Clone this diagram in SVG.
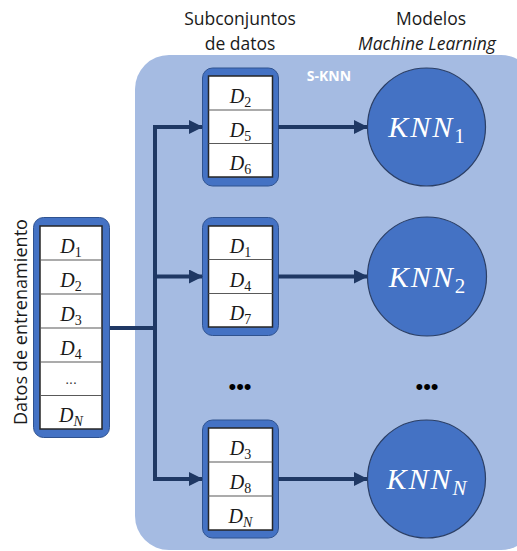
<svg xmlns="http://www.w3.org/2000/svg" width="517" height="551" viewBox="0 0 517 551">
  <defs>
    <style>
      .title { font-family: "Open Sans", "Liberation Sans", sans-serif; font-size: 17.5px; fill: #1a1a1a; text-anchor: middle; }
      .panel-label { font-family: "Open Sans", "Liberation Sans", sans-serif; font-size: 14px; font-weight: bold; fill: #ffffff; text-anchor: middle; }
      .frame { fill: #4472C4; stroke: #2F528F; stroke-width: 1; }
      .cells { fill: #ffffff; stroke: #262626; stroke-width: 1.5; }
      .row { stroke: #595959; stroke-width: 1.2; }
      .math { font-family: "Liberation Serif", "DejaVu Serif", serif; font-style: italic; font-size: 20px; fill: #1a1a1a; text-anchor: middle; }
      .sub { font-style: normal; font-size: 14px; }
      .sub-i { font-style: italic; font-size: 14px; }
      .model { fill: #4472C4; stroke: #2B3F66; stroke-width: 1.2; }
      .model-text { font-family: "Liberation Serif", "DejaVu Serif", serif; font-style: italic; font-size: 30px; fill: #ffffff; text-anchor: middle; letter-spacing: 2px; }
      .model-sub { font-style: normal; font-size: 21px; letter-spacing: 0; }
      .model-sub-i { font-style: italic; font-size: 21px; letter-spacing: 0; }
      .dots { font-family: "Liberation Sans", sans-serif; font-size: 22px; fill: #000000; text-anchor: middle; }
      .link { fill: none; stroke: #1F3864; stroke-width: 4; }
    </style>
    <marker id="arrow" markerUnits="userSpaceOnUse" markerWidth="14" markerHeight="14" refX="13" refY="7" orient="auto">
      <path d="M0,0 L14,7 L0,14 Z" fill="#1F3864"/>
    </marker>
  </defs>

  <!-- S-KNN ensemble panel -->
  <g id="panel">
    <rect x="135" y="55" width="400" height="495" rx="34" fill="#A5BBE2"/>
    <text class="panel-label" x="329" y="81">S-KNN</text>
  </g>

  <!-- Column headings -->
  <g id="headings">
    <text class="title" x="240" y="25">Subconjuntos</text>
    <text class="title" x="240" y="50">de datos</text>
    <text class="title" x="431" y="25">Modelos</text>
    <text class="title" x="427" y="50" font-style="italic">Machine Learning</text>
  </g>

  <!-- Full training set -->
  <g id="training-set">
    <text x="27" y="322" transform="rotate(-90 27 322)" font-family="Open Sans, Liberation Sans, sans-serif" font-size="18" fill="#1a1a1a" text-anchor="middle" textLength="206" lengthAdjust="spacingAndGlyphs">Datos de entrenamiento</text>
    <rect class="frame" x="33.5" y="217.5" width="76" height="220" rx="10"/>
    <rect class="cells" x="40" y="226" width="62" height="203"/>
    <line class="row" x1="40" y1="260" x2="102" y2="260"/>
    <line class="row" x1="40" y1="294" x2="102" y2="294"/>
    <line class="row" x1="40" y1="328" x2="102" y2="328"/>
    <line class="row" x1="40" y1="362" x2="102" y2="362"/>
    <line class="row" x1="40" y1="395.5" x2="102" y2="395.5"/>
    <text class="math" x="71" y="253">D<tspan class="sub" dy="4">1</tspan></text>
    <text class="math" x="71" y="287">D<tspan class="sub" dy="4">2</tspan></text>
    <text class="math" x="71" y="321">D<tspan class="sub" dy="4">3</tspan></text>
    <text class="math" x="71" y="355">D<tspan class="sub" dy="4">4</tspan></text>
    <text x="71" y="384" font-family="Liberation Sans, sans-serif" font-size="14" fill="#333333" text-anchor="middle">...</text>
    <text class="math" x="71" y="422">D<tspan class="sub-i" dy="4">N</tspan></text>
  </g>

  <!-- Subset 1 -->
  <g id="subset-1">
    <rect class="frame" x="202.5" y="68" width="76" height="118" rx="10"/>
    <rect class="cells" x="208.5" y="76" width="64" height="101"/>
    <line class="row" x1="208.5" y1="110" x2="272.5" y2="110"/>
    <line class="row" x1="208.5" y1="143.5" x2="272.5" y2="143.5"/>
    <text class="math" x="240.5" y="103">D<tspan class="sub" dy="4">2</tspan></text>
    <text class="math" x="240.5" y="137">D<tspan class="sub" dy="4">5</tspan></text>
    <text class="math" x="240.5" y="170">D<tspan class="sub" dy="4">6</tspan></text>
  </g>

  <!-- Subset 2 -->
  <g id="subset-2">
    <rect class="frame" x="202.5" y="217.5" width="76" height="118" rx="10"/>
    <rect class="cells" x="208.5" y="226" width="64" height="101"/>
    <line class="row" x1="208.5" y1="259.5" x2="272.5" y2="259.5"/>
    <line class="row" x1="208.5" y1="293.5" x2="272.5" y2="293.5"/>
    <text class="math" x="240.5" y="253">D<tspan class="sub" dy="4">1</tspan></text>
    <text class="math" x="240.5" y="287">D<tspan class="sub" dy="4">4</tspan></text>
    <text class="math" x="240.5" y="320">D<tspan class="sub" dy="4">7</tspan></text>
  </g>

  <!-- Subset N -->
  <g id="subset-n">
    <rect class="frame" x="202.5" y="420" width="76" height="118" rx="10"/>
    <rect class="cells" x="208.5" y="428" width="64" height="102"/>
    <line class="row" x1="208.5" y1="462" x2="272.5" y2="462"/>
    <line class="row" x1="208.5" y1="496" x2="272.5" y2="496"/>
    <text class="math" x="240.5" y="455">D<tspan class="sub" dy="4">3</tspan></text>
    <text class="math" x="240.5" y="489">D<tspan class="sub" dy="4">8</tspan></text>
    <text class="math" x="240.5" y="523">D<tspan class="sub-i" dy="4">N</tspan></text>
  </g>

  <!-- KNN models -->
  <g id="knn-1">
    <circle class="model" cx="426.5" cy="127" r="59"/>
    <text class="model-text" x="426.5" y="137">KNN<tspan class="model-sub" dy="6">1</tspan></text>
  </g>
  <g id="knn-2">
    <circle class="model" cx="427" cy="276.5" r="59.5"/>
    <text class="model-text" x="427" y="286.5">KNN<tspan class="model-sub" dy="6">2</tspan></text>
  </g>
  <g id="knn-n">
    <circle class="model" cx="426.5" cy="479" r="59"/>
    <text class="model-text" x="426.5" y="489">KNN<tspan class="model-sub-i" dy="6">N</tspan></text>
  </g>

  <!-- Omitted subsets / models -->
  <g id="ellipsis">
    <text class="dots" x="240" y="394">•••</text>
    <text class="dots" x="427" y="394">•••</text>
  </g>

  <!-- Connectors -->
  <g id="connectors">
    <line class="link" x1="110" y1="328" x2="157" y2="328"/>
    <line class="link" x1="155" y1="125" x2="155" y2="481"/>
    <path class="link" d="M155,127 H202" marker-end="url(#arrow)"/>
    <path class="link" d="M155,276.5 H202" marker-end="url(#arrow)"/>
    <path class="link" d="M155,479 H202" marker-end="url(#arrow)"/>
    <path class="link" d="M278.5,127 H367" marker-end="url(#arrow)"/>
    <path class="link" d="M278.5,276.5 H367" marker-end="url(#arrow)"/>
    <path class="link" d="M278.5,479 H367" marker-end="url(#arrow)"/>
  </g>
</svg>
